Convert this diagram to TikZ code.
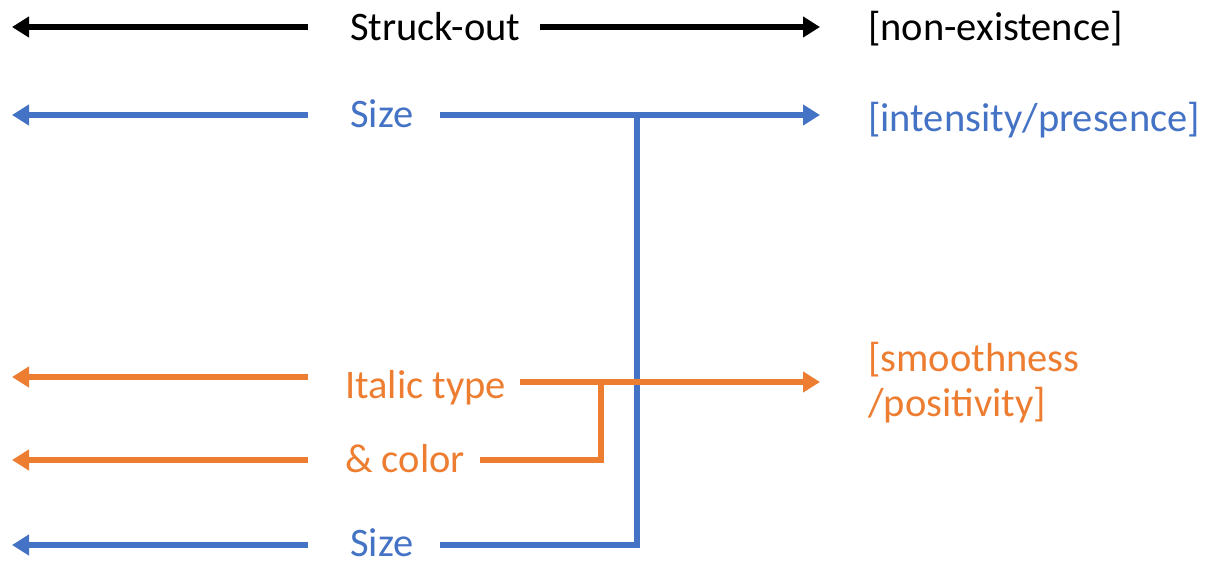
\documentclass[tikz,border=0pt]{standalone}
\usepackage{fontspec}
\setmainfont{Carlito}
\usetikzlibrary{arrows.meta}
\definecolor{keyblue}{HTML}{4472C4}
\definecolor{keyorange}{HTML}{ED7D31}
\tikzset{
  lbl/.style={font=\fontsize{40.5}{45}\selectfont, inner sep=0pt, anchor=base west, align=left},
  arr/.style={line width=6pt, -{Triangle[length=17pt,width=20pt]}},
  bar/.style={line width=6pt},
}
\begin{document}
\begin{tikzpicture}[x=1pt,y=-1pt]
  \useasboundingbox (0,0) rectangle (1225,562);
  % labels
  \node[lbl]                  (struck) at (350,40)  {Struck-out};
  \node[lbl]                  (nonex)  at (868,40)  {[non-existence]};
  \node[lbl,text=keyblue]     (sizeA)  at (350,127) {Size};
  \node[lbl,text=keyblue]     (inten)  at (868,131) {[intensity/presence]};
  \node[lbl,text=keyorange]   (italic) at (345,398) {Italic type};
  \node[lbl,text=keyorange]   (colour) at (345,472) {\& color};
  \node[lbl,text=keyorange]   (smooth) at (868,416) {[smoothness\\/positivity]};
  \node[lbl,text=keyblue]     (sizeB)  at (350,556) {Size};
  % free ends and junctions
  \coordinate (struckL) at (308,27);  \coordinate (struckT) at (12,27);
  \coordinate (struckR) at (540,27);  \coordinate (nonexT)  at (820,27);
  \coordinate (sizeAL)  at (308,115); \coordinate (sizeAT)  at (12,115);
  \coordinate (sizeAR)  at (440,115); \coordinate (intenT)  at (820,115);
  \coordinate (italL)   at (308,377); \coordinate (italT)   at (12,377);
  \coordinate (italR)   at (520,382); \coordinate (smoothT) at (820,382);
  \coordinate (colL)    at (308,460); \coordinate (colT)    at (12,460);
  \coordinate (colR)    at (480,460); \coordinate (colJ)    at (601,460);
  \coordinate (italJ)   at (601,382);
  \coordinate (sizeBL)  at (308,545); \coordinate (sizeBT)  at (12,545);
  \coordinate (sizeBR)  at (440,545); \coordinate (sizeBJ)  at (637,545);
  \coordinate (sizeAJ)  at (637,115);
  % black
  \draw[arr] (struckL) -- (struckT);
  \draw[arr] (struckR) -- (nonexT);
  % blue
  \begin{scope}[draw=keyblue]
    \draw[arr] (sizeAL) -- (sizeAT);
    \draw[arr] (sizeAR) -- (intenT);
    \draw[arr] (sizeBL) -- (sizeBT);
    \draw[bar] (sizeBR) -- (sizeBJ) -- (sizeAJ);
  \end{scope}
  % orange
  \begin{scope}[draw=keyorange]
    \draw[arr] (italL) -- (italT);
    \draw[arr] (colL) -- (colT);
    \draw[bar] (colR) -- (colJ) -- (italJ);
    \draw[arr] (italR) -- (smoothT);
  \end{scope}
\end{tikzpicture}
\end{document}
